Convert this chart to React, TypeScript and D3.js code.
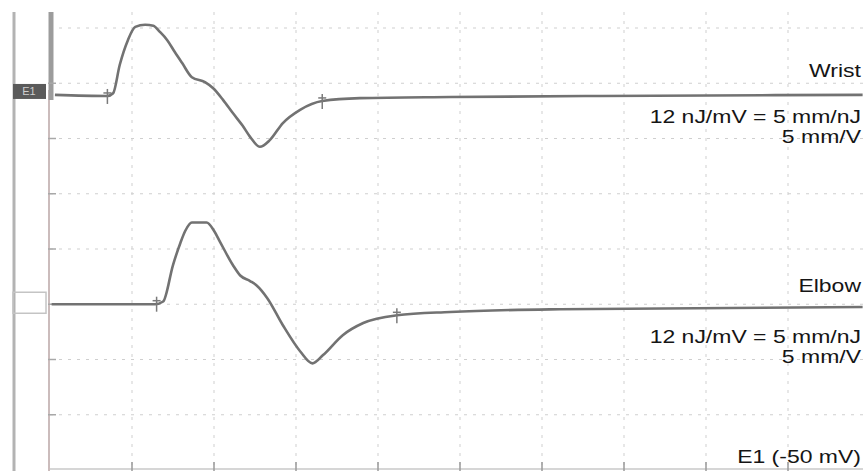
import React, { useRef, useEffect } from "react";
import * as d3 from "d3";

// time in ms (1 division = 1 ms), amplitude in divisions above the trace baseline
const wristTime = [0.06, 0.7, 0.77, 0.85, 0.95, 1.04, 1.16, 1.26, 1.34, 1.43, 1.52, 1.61, 1.73, 1.89, 1.99, 2.11, 2.23, 2.35, 2.44, 2.56, 2.68, 2.84, 3.05, 3.32, 3.78, 4.88, 6.71, 9.91];
const wristAmp = [0.02, 0.0, 0.05, 0.56, 1.01, 1.25, 1.29, 1.27, 1.16, 1.01, 0.8, 0.6, 0.34, 0.25, 0.14, -0.07, -0.31, -0.54, -0.74, -0.92, -0.8, -0.49, -0.25, -0.09, -0.04, -0.02, 0.0, 0.02];
const elbowTime = [0.02, 1.28, 1.38, 1.5, 1.59, 1.65, 1.73, 1.91, 2.0, 2.07, 2.23, 2.32, 2.44, 2.52, 2.65, 2.84, 3.05, 3.2, 3.33, 3.57, 3.82, 4.23, 4.88, 6.22, 9.91];
const elbowAmp = [0, 0, 0.05, 0.71, 1.11, 1.33, 1.48, 1.48, 1.33, 1.14, 0.71, 0.52, 0.42, 0.34, 0.11, -0.38, -0.85, -1.07, -0.92, -0.56, -0.34, -0.2, -0.14, -0.09, -0.05];

const wristMarkers = [0.7, 3.32];
const elbowMarkers = [1.3, 4.23];

// baselines, in divisions from the top gridline
const traceNames = ["Wrist", "Elbow"];
const traceBaselines = [1.23, 5.0];
const gainLabel = "12 nJ/mV = 5 mm/nJ";
const sensLabel = "5 mm/V";
const footLabel = "E1 (-50 mV)";

const xDivs = d3.range(0, 11);
const yDivs = d3.range(0, 9);

const W = 863;
const H = 471;

const Trace = () => {
	const svgRef = useRef(null);

	useEffect(() => {
		const svg = d3.select(svgRef.current);
		svg.selectAll("*").remove();

		const x = d3.scaleLinear().domain([0, 10]).range([50, 870]);
		const y = d3.scaleLinear().domain([0, 8]).range([28, 470]);

		//grid
		const grid = svg.append("g").attr("stroke", "#cfcfcf").attr("stroke-width", 1).attr("stroke-dasharray", "3,6");
		grid.selectAll("line.v")
			.data(xDivs.slice(1))
			.enter()
			.append("line")
			.attr("x1", d => x(d)).attr("x2", d => x(d))
			.attr("y1", 12).attr("y2", H);
		grid.selectAll("line.h")
			.data(yDivs.slice(0, 8))
			.enter()
			.append("line")
			.attr("x1", x(0)).attr("x2", W)
			.attr("y1", d => y(d)).attr("y2", d => y(d));

		//bottom axis
		svg.append("line")
			.attr("x1", x(0)).attr("x2", W)
			.attr("y1", y(8) - 1).attr("y2", y(8) - 1)
			.attr("stroke", "#d6d6d6").attr("stroke-width", 2);
		svg.append("g").selectAll("line")
			.data(xDivs.slice(1))
			.enter()
			.append("line")
			.attr("x1", d => x(d)).attr("x2", d => x(d))
			.attr("y1", H - 9).attr("y2", H)
			.attr("stroke", "#9a9a9a").attr("stroke-width", 1.5);

		//left frame
		svg.append("line")
			.attr("x1", 14).attr("x2", 14).attr("y1", 12).attr("y2", H)
			.attr("stroke", "#b3b3b3").attr("stroke-width", 3);
		svg.append("line")
			.attr("x1", 49).attr("x2", 49).attr("y1", 90).attr("y2", H)
			.attr("stroke", "#cbbcbc").attr("stroke-width", 2);
		svg.append("line")
			.attr("x1", 51).attr("x2", 51).attr("y1", 12).attr("y2", 100)
			.attr("stroke", "#9c9c9c").attr("stroke-width", 5);
		svg.append("g").selectAll("line")
			.data(yDivs.slice(1, 8))
			.enter()
			.append("line")
			.attr("x1", 48).attr("x2", 56)
			.attr("y1", d => y(d)).attr("y2", d => y(d))
			.attr("stroke", "#a8a8a8").attr("stroke-width", 1.5);

		//channel boxes
		svg.append("rect")
			.attr("x", 13).attr("y", y(traceBaselines[0]) - 12).attr("width", 33).attr("height", 15)
			.attr("fill", "#5a5a5a");
		svg.append("text")
			.attr("x", 29).attr("y", y(traceBaselines[0]) - 0.5)
			.attr("text-anchor", "middle").attr("font-size", 11)
			.attr("font-family", "Liberation Sans, Arial, sans-serif")
			.attr("fill", "#cfcfcf").text("E1");
		svg.append("rect")
			.attr("x", 13).attr("y", y(traceBaselines[1]) - 12).attr("width", 33).attr("height", 21)
			.attr("fill", "none").attr("stroke", "#c4c4c4").attr("stroke-width", 1.5);

		//traces
		const series = [
			{ t: wristTime, a: wristAmp, m: wristMarkers, base: traceBaselines[0] },
			{ t: elbowTime, a: elbowAmp, m: elbowMarkers, base: traceBaselines[1] },
		];
		series.forEach(s => {
			const pts = s.t.map((t, i) => [t, s.a[i]]);
			const line = d3.line()
				.x(d => x(d[0]))
				.y(d => y(s.base - d[1]))
				.curve(d3.curveMonotoneX);
			svg.append("path")
				.attr("d", line(pts))
				.attr("fill", "none")
				.attr("stroke", "#727272")
				.attr("stroke-width", 2.6)
				.attr("stroke-linejoin", "round");

			const interp = (t) => {
				const i = d3.bisectLeft(s.t, t);
				const i0 = Math.max(0, i - 1), i1 = Math.min(s.t.length - 1, i);
				const f = s.t[i1] === s.t[i0] ? 0 : (t - s.t[i0]) / (s.t[i1] - s.t[i0]);
				return s.a[i0] + f * (s.a[i1] - s.a[i0]);
			};
			const mk = svg.append("g").attr("stroke", "#7a7a7a").attr("stroke-width", 1.5);
			s.m.forEach(t => {
				const cy = y(s.base - interp(t));
				mk.append("line").attr("x1", x(t)).attr("x2", x(t)).attr("y1", cy - 7).attr("y2", cy + 8);
				mk.append("line").attr("x1", x(t) - 4).attr("x2", x(t) + 4).attr("y1", cy - 3).attr("y2", cy - 3);
			});
		});

		//labels
		const label = (txt, yy) => {
			svg.append("text")
				.attr("transform", `translate(861,${yy}) scale(1.21,1)`)
				.attr("text-anchor", "end")
				.attr("font-family", "Liberation Sans, Arial, sans-serif")
				.attr("font-size", 19)
				.attr("fill", "#151515")
				.text(txt);
		};
		label(traceNames[0], 77);
		label(gainLabel, 123);
		label(sensLabel, 143);
		label(traceNames[1], 292);
		label(gainLabel, 343);
		label(sensLabel, 363);
		label(footLabel, 463);
	});

	return (
		<svg ref={svgRef} width={W} height={H} style={{ position: "fixed", left: 0, top: 0, background: "#fff" }}>
		</svg>
	);
};

export default function App() {
	return <Trace />;
}
